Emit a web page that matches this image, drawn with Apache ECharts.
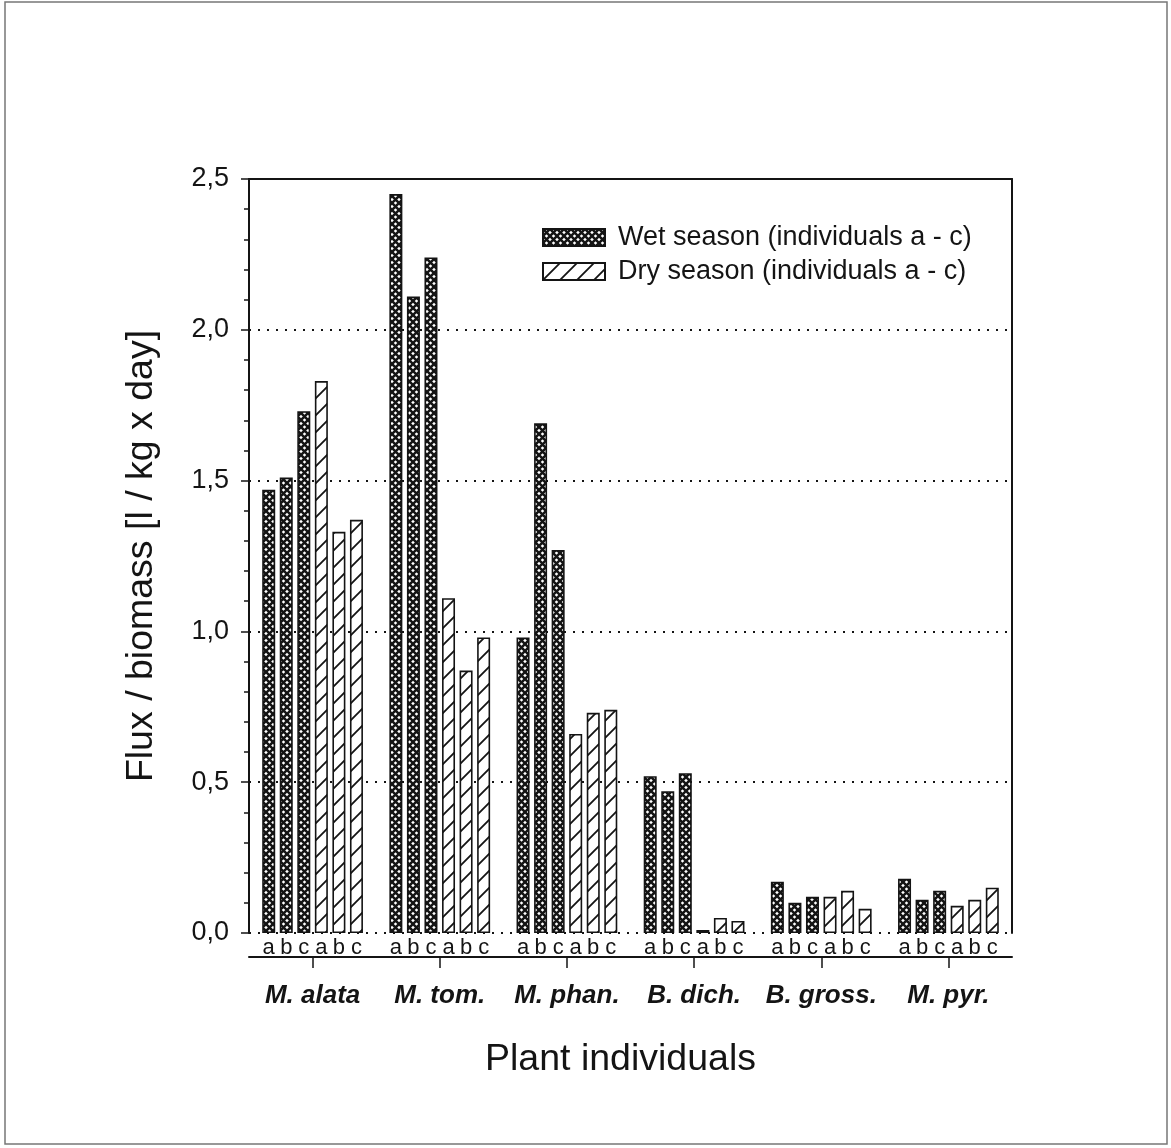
<!DOCTYPE html>
<html>
<head>
<meta charset="utf-8">
<script src="https://cdn.jsdelivr.net/npm/echarts@6/dist/echarts.min.js"></script>
<style>
html,body{margin:0;padding:0;background:#fff;}
#c{width:1171px;height:1148px;}
</style>
</head>
<body>
<div id="c"></div>
<script>
const categories = ['M. alata', 'M. tom.', 'M. phan.', 'B. dich.', 'B. gross.', 'M. pyr.'];
const wetA = [1.47, 2.45, 0.98, 0.52, 0.17, 0.18];
const wetB = [1.51, 2.11, 1.69, 0.47, 0.10, 0.11];
const wetC = [1.73, 2.24, 1.27, 0.53, 0.12, 0.14];
const dryA = [1.83, 1.11, 0.66, 0.01, 0.12, 0.09];
const dryB = [1.33, 0.87, 0.73, 0.05, 0.14, 0.11];
const dryC = [1.37, 0.98, 0.74, 0.04, 0.08, 0.15];
const individuals = ['a', 'b', 'c'];
const wetName = 'Wet season (individuals a - c)';
const dryName = 'Dry season (individuals a - c)';

const INK = '#141414';
const FONT = '"Liberation Sans", Arial, sans-serif';

function crossPattern() {
  const c = document.createElement('canvas');
  c.width = 7; c.height = 7;
  const g = c.getContext('2d');
  g.fillStyle = '#fff'; g.fillRect(0, 0, 7, 7);
  g.strokeStyle = INK; g.lineWidth = 2.5;
  g.beginPath();
  g.moveTo(-1, -1); g.lineTo(8, 8);
  g.moveTo(8, -1); g.lineTo(-1, 8);
  g.stroke();
  return c;
}
function hatchPattern() {
  const s = 17;
  const c = document.createElement('canvas');
  c.width = s; c.height = s;
  const g = c.getContext('2d');
  g.fillStyle = '#fff'; g.fillRect(0, 0, s, s);
  g.strokeStyle = INK; g.lineWidth = 1.8;
  g.beginPath();
  g.moveTo(-2, s + 2); g.lineTo(s + 2, -2);
  g.moveTo(-2, 2); g.lineTo(2, -2);
  g.moveTo(s - 2, s + 2); g.lineTo(s + 2, s - 2);
  g.stroke();
  return c;
}
const wetFill = { image: crossPattern(), repeat: 'repeat' };
const dryFill = { image: hatchPattern(), repeat: 'repeat' };

function barSeries(name, data, fill, letter) {
  return {
    name: name,
    type: 'bar',
    data: data,
    barWidth: 13,
    barGap: '35%',
    barCategoryGap: '20%',
    xAxisIndex: 0,
    yAxisIndex: 0,
    itemStyle: { color: fill, borderColor: INK, borderWidth: 1.6 },
    label: {
      show: true,
      position: 'bottom',
      distance: 4,
      formatter: letter,
      fontFamily: FONT,
      fontSize: 22,
      color: INK
    },
    emphasis: { disabled: true }
  };
}

const chart = echarts.init(document.getElementById('c'), null, { renderer: 'canvas' });
chart.setOption({
  backgroundColor: '#fff',
  animation: false,
  textStyle: { fontFamily: FONT, color: INK },
  grid: { left: 249, top: 179, right: 159, bottom: 215, containLabel: false },
  legend: {
    data: [wetName, dryName],
    orient: 'vertical',
    left: 537,
    top: 219,
    itemWidth: 62,
    itemHeight: 17,
    itemGap: 7,
    icon: 'rect',
    textStyle: { fontFamily: FONT, fontSize: 27, color: INK, padding: [0, 0, 0, 8] }
  },
  xAxis: [
    {
      type: 'category',
      data: categories,
      position: 'bottom',
      offset: 24,
      axisLine: { show: true, onZero: false, lineStyle: { color: INK, width: 2 } },
      axisTick: { show: true, alignWithLabel: true, length: 11, inside: false, lineStyle: { color: INK, width: 1.5 } },
      axisLabel: { interval: 0, fontFamily: FONT, fontSize: 26, fontWeight: 'bold', fontStyle: 'italic', color: INK, margin: 26 },
      name: 'Plant individuals',
      nameLocation: 'middle',
      nameGap: 84,
      nameTextStyle: { fontFamily: FONT, fontSize: 37.5, color: INK, padding: [0, 20, 0, 0] },
      splitLine: { show: false }
    },
    {
      type: 'category',
      data: categories,
      position: 'top',
      axisLine: { show: true, onZero: false, lineStyle: { color: INK, width: 2 } },
      axisTick: { show: false },
      axisLabel: { show: false },
      splitLine: { show: false }
    }
  ],
  yAxis: [
    {
      type: 'value',
      min: 0,
      max: 2.5,
      interval: 0.5,
      position: 'left',
      axisLine: { show: true, onZero: false, lineStyle: { color: INK, width: 2 } },
      axisTick: { show: true, length: 8, lineStyle: { color: INK, width: 1.5 } },
      minorTick: { show: true, splitNumber: 5, length: 5, lineStyle: { color: INK, width: 1.5 } },
      axisLabel: {
        fontFamily: FONT, fontSize: 27, color: INK, margin: 20,
        formatter: function (v) { return v.toFixed(1).replace('.', ','); }
      },
      splitLine: { show: true, lineStyle: { color: INK, width: 2, type: [2, 7] } },
      name: 'Flux / biomass [l / kg x day]',
      nameLocation: 'middle',
      nameGap: 88,
      nameTextStyle: { fontFamily: FONT, fontSize: 37.5, color: INK }
    },
    {
      type: 'value',
      min: 0,
      max: 2.5,
      interval: 0.5,
      position: 'right',
      axisLine: { show: true, onZero: false, lineStyle: { color: INK, width: 2 } },
      axisTick: { show: false },
      axisLabel: { show: false },
      splitLine: { show: false }
    }
  ],
  graphic: [
    {
      type: 'rect',
      shape: { x: 5, y: 2, width: 1162, height: 1142 },
      style: { fill: 'none', stroke: '#777', lineWidth: 1.5 },
      silent: true
    }
  ],
  series: [
    barSeries(wetName, wetA, wetFill, individuals[0]),
    barSeries(wetName, wetB, wetFill, individuals[1]),
    barSeries(wetName, wetC, wetFill, individuals[2]),
    barSeries(dryName, dryA, dryFill, individuals[0]),
    barSeries(dryName, dryB, dryFill, individuals[1]),
    barSeries(dryName, dryC, dryFill, individuals[2])
  ]
});
</script>
</body>
</html>
